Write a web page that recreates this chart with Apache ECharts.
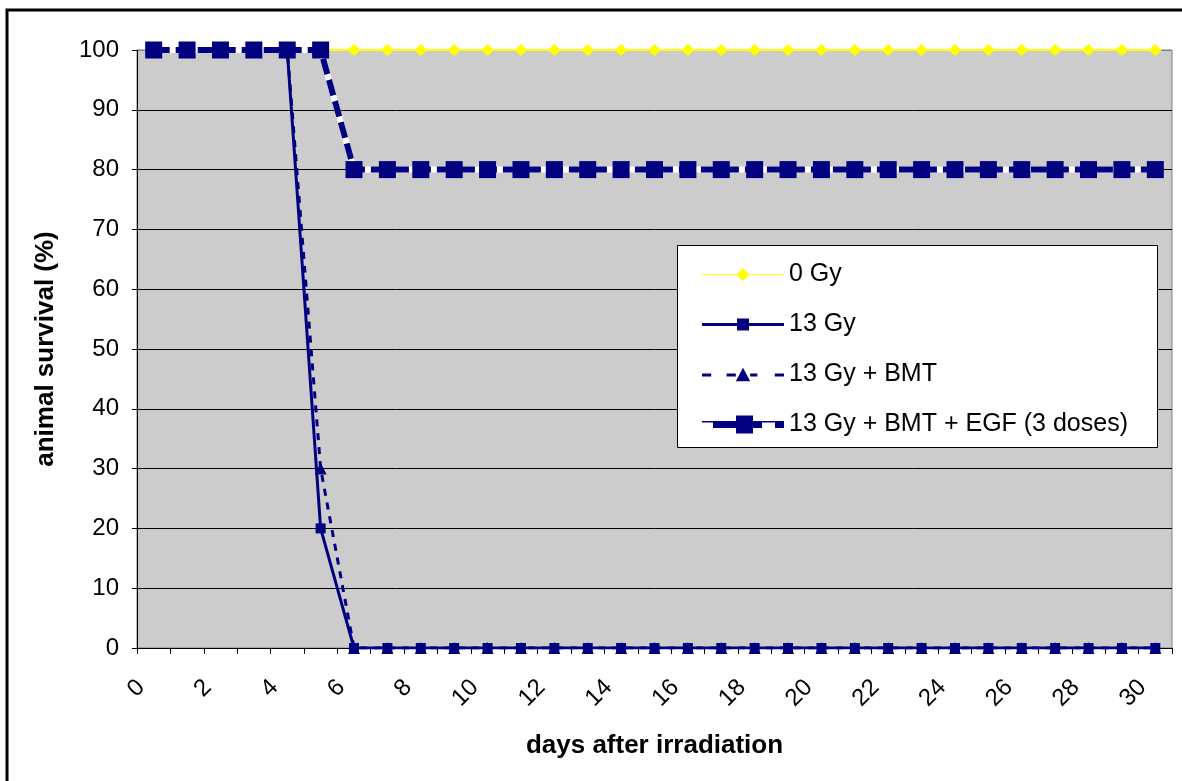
<!DOCTYPE html>
<html>
<head>
<meta charset="utf-8">
<title>Animal survival after irradiation</title>
<script src="https://cdn.jsdelivr.net/npm/echarts@6/dist/echarts.min.js"></script>
<style>
  html, body { margin: 0; padding: 0; background: #ffffff; }
  #chart { width: 1182px; height: 781px; }
</style>
</head>
<body>
<div id="chart"></div>
<script>
// Days after irradiation (category axis)
const days = ['0','1','2','3','4','5','6','7','8','9','10','11','12','13','14','15',
              '16','17','18','19','20','21','22','23','24','25','26','27','28','29','30'];

// Survival (%) per group
const gy0 = [100,100,100,100,100,100,100,100,100,100,100,100,100,100,100,100,
             100,100,100,100,100,100,100,100,100,100,100,100,100,100,100];
const gy13 = [100,100,100,100,100,20,0,0,0,0,0,0,0,0,0,0,
              0,0,0,0,0,0,0,0,0,0,0,0,0,0,0];
const gy13Bmt = [100,100,100,100,100,30,0,0,0,0,0,0,0,0,0,0,
                 0,0,0,0,0,0,0,0,0,0,0,0,0,0,0];
const gy13BmtEgf = [100,100,100,100,100,100,80,80,80,80,80,80,80,80,80,80,
                    80,80,80,80,80,80,80,80,80,80,80,80,80,80,80];

const seriesNames = ['0 Gy', '13 Gy', '13 Gy + BMT', '13 Gy + BMT + EGF (3 doses)'];
const yTicks = [0, 10, 20, 30, 40, 50, 60, 70, 80, 90, 100];

const NAVY = '#000080';
const YELLOW = '#FFFF00';
const FONT = '"Liberation Sans", Arial, sans-serif';

// Legend keys: line + marker drawn as one filled path (82 x 18 box)
const keyIcons = [
  // thin line with diamond
  'path://M0 8.5H82V9.5H0Z M41 2.5L47.5 9L41 15.5L34.5 9Z',
  // medium line with small square
  'path://M0 7.5H82V10.5H0Z M35 3H47V15H35Z',
  // dashed line with triangle
  'path://M2 7.5H11V10.5H2Z M26 7.5H35V10.5H26Z M49 7.5H56V10.5H49Z M73 7.5H82V10.5H73Z M42 2L49 15H35Z',
  // thin line, heavy dashes and large square
  'path://M0 5.5H82V7H0Z M11 5.5H34V12.5H11Z M51 5.5H60V12.5H51Z M73 5.5H82V12.5H73Z M34 0H51V18H34Z'
];

const chart = echarts.init(document.getElementById('chart'), null, { renderer: 'canvas' });

chart.setOption({
  animation: false,
  backgroundColor: '#ffffff',
  textStyle: { fontFamily: FONT, color: '#000' },
  grid: {
    left: 137, right: 10, top: 50, bottom: 133,
    show: true,
    backgroundColor: '#cccccc',
    borderColor: '#808080',
    borderWidth: 1,
    containLabel: false
  },
  graphic: [
    // outer chart frame
    {
      type: 'polyline', z: 1, silent: true,
      shape: { points: [[7, 790], [7, 10], [1190, 10]] },
      style: { stroke: '#000', lineWidth: 3, fill: null }
    },
    // legend box
    {
      type: 'rect', z: 3, silent: true,
      shape: { x: 677.5, y: 245.5, width: 480, height: 202 },
      style: { fill: '#ffffff', stroke: '#000', lineWidth: 1 }
    }
  ],
  legend: {
    orient: 'vertical',
    left: 702, top: 262,
    padding: 0,
    itemWidth: 82, itemHeight: 18, itemGap: 25,
    itemStyle: { borderWidth: 0 },
    textStyle: { fontFamily: FONT, fontSize: 25, color: '#000', lineHeight: 18 },
    selectedMode: false,
    z: 5,
    data: seriesNames.map((n, i) => ({ name: n, icon: keyIcons[i], itemStyle: { borderWidth: 0 } }))
  },
  xAxis: {
    type: 'category',
    data: days,
    boundaryGap: true,
    name: 'days after irradiation',
    nameLocation: 'middle',
    nameGap: 85,
    nameTextStyle: { fontFamily: FONT, fontSize: 26, fontWeight: 'bold', color: '#000' },
    axisLine: { lineStyle: { color: '#000', width: 1 } },
    axisTick: { show: true, interval: 0, length: 6, inside: false, lineStyle: { color: '#000' } },
    axisLabel: {
      interval: 1, rotate: 45, margin: 23, padding: [0, 18, 0, 0],
      fontFamily: FONT, fontSize: 24, color: '#000'
    },
    splitLine: { show: false }
  },
  yAxis: {
    type: 'value',
    min: 0, max: 100, interval: 10,
    name: 'animal survival (%)',
    nameLocation: 'middle',
    nameRotate: 90,
    nameGap: 78,
    nameTextStyle: { fontFamily: FONT, fontSize: 26, fontWeight: 'bold', color: '#000' },
    axisLine: { show: true, lineStyle: { color: '#000', width: 1 } },
    axisTick: { show: true, length: 5, inside: false, lineStyle: { color: '#000' } },
    axisLabel: {
      margin: 18, fontFamily: FONT, fontSize: 24, color: '#000',
      formatter: v => (yTicks.indexOf(v) >= 0 ? String(v) : '')
    },
    splitLine: {
      show: true,
      lineStyle: {
        color: ['#000', '#000', '#000', '#000', '#000', '#000', '#000', '#000', '#000', '#000', '#808080'],
        width: 1
      }
    }
  },
  series: [
    {
      name: seriesNames[0], type: 'line', data: gy0,
      showAllSymbol: true, symbol: 'diamond', symbolSize: [13, 12],
      lineStyle: { color: YELLOW, width: 2 },
      itemStyle: { color: YELLOW, borderWidth: 0 },
      z: 2
    },
    {
      name: seriesNames[1], type: 'line', data: gy13,
      showAllSymbol: true, symbol: 'rect', symbolSize: 10,
      lineStyle: { color: NAVY, width: 3 },
      itemStyle: { color: NAVY, borderWidth: 0 },
      z: 3
    },
    {
      name: seriesNames[2], type: 'line', data: gy13Bmt,
      showAllSymbol: true, symbol: 'triangle', symbolSize: 12,
      lineStyle: { color: NAVY, width: 3, type: [7, 7] },
      itemStyle: { color: NAVY, borderWidth: 0 },
      z: 4
    },
    {
      // white backing that shows through the gaps of the dashed line
      type: 'line', data: gy13BmtEgf,
      symbol: 'none', silent: true,
      lineStyle: { color: '#ffffff', width: 6 },
      z: 5
    },
    {
      name: seriesNames[3], type: 'line', data: gy13BmtEgf,
      showAllSymbol: true, symbol: 'rect', symbolSize: 17,
      lineStyle: { color: NAVY, width: 6, type: [16, 6] },
      itemStyle: { color: NAVY, borderWidth: 0 },
      z: 6
    }
  ]
});
</script>
</body>
</html>
